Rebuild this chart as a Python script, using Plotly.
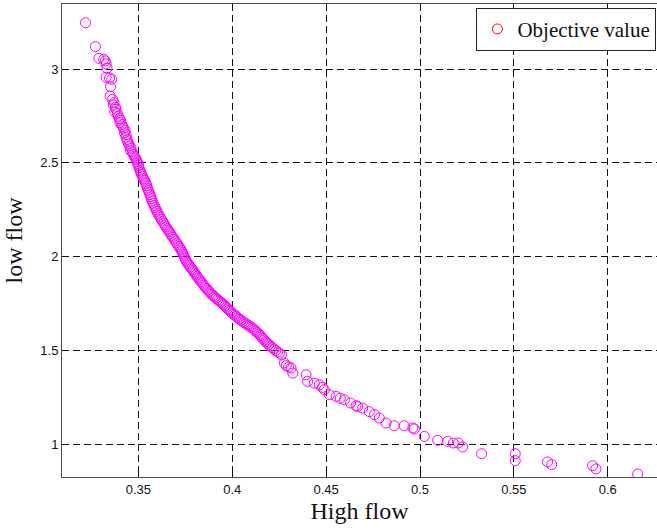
import plotly.graph_objects as go

# Pareto front: high-flow objective vs low-flow objective
high_flow = [
    0.3218, 0.3271, 0.3289, 0.3315, 0.3323, 0.3328, 0.3333, 0.3328, 0.3346, 0.3358,
    0.3351, 0.3349, 0.3362, 0.3370, 0.3366, 0.3378, 0.3381, 0.3374, 0.3388, 0.3392,
    0.3399, 0.3405, 0.3401, 0.3411, 0.3416, 0.3422, 0.3430, 0.3426, 0.3435, 0.3433,
    0.3440, 0.3443, 0.3448, 0.3455, 0.3461, 0.3458, 0.3467, 0.3472, 0.3478, 0.3484,
    0.3489, 0.3493, 0.3497, 0.3501, 0.3503, 0.3508, 0.3512, 0.3516, 0.3522, 0.3526,
    0.3531, 0.3537, 0.3541, 0.3545, 0.3547, 0.3553, 0.3557, 0.3562, 0.3566, 0.3569,
    0.3573, 0.3578, 0.3584, 0.3589, 0.3594, 0.3598, 0.3604, 0.3609, 0.3616, 0.3621,
    0.3628, 0.3634, 0.3641, 0.3646, 0.3653, 0.3659, 0.3665, 0.3671, 0.3677, 0.3683,
    0.3690, 0.3697, 0.3703, 0.3709, 0.3716, 0.3722, 0.3728, 0.3733, 0.3738, 0.3743,
    0.3747, 0.3752, 0.3757, 0.3764, 0.3770, 0.3776, 0.3783, 0.3789, 0.3795, 0.3801,
    0.3807, 0.3813, 0.3819, 0.3826, 0.3833, 0.3840, 0.3847, 0.3854, 0.3861, 0.3869,
    0.3876, 0.3884, 0.3891, 0.3899, 0.3907, 0.3914, 0.3922, 0.3930, 0.3938, 0.3946,
    0.3953, 0.3961, 0.3968, 0.3975, 0.3982, 0.3989, 0.3996, 0.4004, 0.4012, 0.4020,
    0.4029, 0.4038, 0.4046, 0.4055, 0.4064, 0.4073, 0.4082, 0.4091, 0.4100, 0.4109,
    0.4117, 0.4125, 0.4133, 0.4141, 0.4149, 0.4156, 0.4163, 0.4170, 0.4178, 0.4186,
    0.4194, 0.4203, 0.4212, 0.4222, 0.4232, 0.4242, 0.4251, 0.4262, 0.4277, 0.4287,
    0.4300, 0.4313, 0.4322, 0.4393, 0.4401, 0.4437, 0.4464, 0.4480, 0.4490, 0.4517,
    0.4553, 0.4575, 0.4597, 0.4630, 0.4659, 0.4668, 0.4694, 0.4730, 0.4757, 0.4783,
    0.4819, 0.4863, 0.4916, 0.4961, 0.4970, 0.5023, 0.5094, 0.5147, 0.5177, 0.5204,
    0.5227, 0.5328, 0.5507, 0.5507, 0.5679, 0.5701, 0.5919, 0.5937, 0.6159,
]
low_flow = [
    3.246, 3.119, 3.057, 3.052, 3.043, 3.027, 3.004, 2.956, 2.952, 2.945,
    2.906, 2.856, 2.838, 2.821, 2.809, 2.797, 2.785, 2.772, 2.763, 2.748,
    2.736, 2.727, 2.715, 2.704, 2.693, 2.684, 2.672, 2.661, 2.649, 2.636,
    2.624, 2.613, 2.601, 2.590, 2.578, 2.566, 2.557, 2.546, 2.536, 2.527,
    2.517, 2.506, 2.497, 2.486, 2.474, 2.462, 2.451, 2.440, 2.429, 2.417,
    2.408, 2.398, 2.389, 2.378, 2.366, 2.355, 2.343, 2.331, 2.320, 2.309,
    2.297, 2.285, 2.274, 2.263, 2.252, 2.242, 2.231, 2.221, 2.211, 2.201,
    2.190, 2.180, 2.170, 2.160, 2.150, 2.141, 2.133, 2.123, 2.113, 2.104,
    2.094, 2.084, 2.074, 2.064, 2.055, 2.045, 2.036, 2.026, 2.015, 2.004,
    1.993, 1.983, 1.973, 1.964, 1.955, 1.946, 1.938, 1.930, 1.921, 1.912,
    1.903, 1.895, 1.886, 1.877, 1.868, 1.859, 1.850, 1.841, 1.832, 1.824,
    1.816, 1.808, 1.800, 1.793, 1.786, 1.779, 1.772, 1.766, 1.759, 1.753,
    1.746, 1.739, 1.731, 1.724, 1.717, 1.710, 1.703, 1.697, 1.690, 1.683,
    1.676, 1.669, 1.662, 1.656, 1.650, 1.644, 1.638, 1.632, 1.626, 1.620,
    1.612, 1.604, 1.597, 1.589, 1.581, 1.573, 1.565, 1.557, 1.549, 1.541,
    1.533, 1.525, 1.517, 1.509, 1.501, 1.494, 1.488, 1.478, 1.435, 1.421,
    1.413, 1.408, 1.381, 1.372, 1.337, 1.328, 1.319, 1.305, 1.293, 1.266,
    1.257, 1.247, 1.239, 1.222, 1.207, 1.203, 1.195, 1.176, 1.160, 1.142,
    1.115, 1.101, 1.101, 1.089, 1.084, 1.044, 1.023, 1.018, 1.009, 1.009,
    0.988, 0.952, 0.952, 0.915, 0.908, 0.894, 0.888, 0.871, 0.844,
]

x_ticks = [0.35, 0.4, 0.45, 0.5, 0.55, 0.6]
x_tick_labels = ["0.35", "0.4", "0.45", "0.5", "0.55", "0.6"]
y_ticks = [1, 1.5, 2, 2.5, 3]
y_tick_labels = ["1", "1.5", "2", "2.5", "3"]

fig = go.Figure()

fig.add_trace(go.Scatter(
    x=high_flow, y=low_flow, mode="markers",
    marker=dict(symbol="circle-open", size=10, color="#ff00ff",
                line=dict(width=1, color="#ff00ff")),
    showlegend=False,
))

# legend entry drawn with a red open circle
fig.add_trace(go.Scatter(
    x=[None], y=[None], mode="markers", name="Objective value",
    marker=dict(symbol="circle-open", size=10, color="#ff0000",
                line=dict(width=1, color="#ff0000")),
))

axis_common = dict(
    showline=True, linecolor="#4d4d4d", linewidth=1,
    showgrid=True, gridcolor="#111111", gridwidth=1, griddash="7px,4px",
    zeroline=False, ticks="inside", ticklen=4, tickcolor="#111111",
    tickfont=dict(family="Liberation Sans, Arial, sans-serif", size=13, color="#111111"),
    title_font=dict(family="Liberation Serif, Times New Roman, serif", size=24, color="#111111"),
)

fig.update_xaxes(
    range=[0.3093, 0.6262], tickvals=x_ticks, ticktext=x_tick_labels,
    mirror="ticks", title_text="High flow", title_standoff=6, **axis_common,
)
fig.update_yaxes(
    range=[0.828, 3.346], tickvals=y_ticks, ticktext=y_tick_labels,
    mirror=False, title_text="low flow", title_standoff=10, **axis_common,
)

fig.update_layout(
    width=657, height=529,
    margin=dict(l=62, r=0, t=4, b=52),
    paper_bgcolor="white", plot_bgcolor="white",
    legend=dict(
        x=0.999, y=0.992, xanchor="right", yanchor="top",
        bgcolor="white", bordercolor="#222222", borderwidth=1,
        font=dict(family="Liberation Serif, Times New Roman, serif", size=21, color="#111111"),
        itemwidth=30, tracegroupgap=0,
    ),
)

fig.write_html("out.html")
